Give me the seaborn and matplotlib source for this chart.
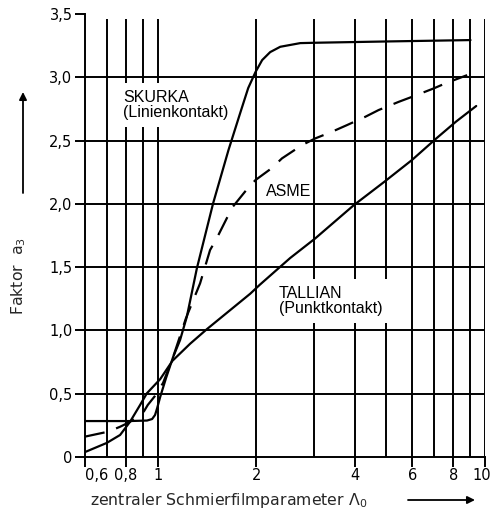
import numpy as np
import pandas as pd
import matplotlib
matplotlib.use("Agg")
import matplotlib.pyplot as plt
from matplotlib.ticker import NullLocator, FixedLocator, FixedFormatter
from matplotlib.transforms import ScaledTranslation
import seaborn as sns

# ---- data ----
skurka_x = [0.6, 0.818, 0.928, 0.962, 0.982, 0.997, 1.018, 1.061, 1.115, 1.171, 1.228,
            1.318, 1.478, 1.646, 1.787, 1.891, 1.99, 2.086, 2.207, 2.369, 2.727, 3.05, 5.0, 9.03]
skurka_y = [0.284, 0.284, 0.288, 0.300, 0.332, 0.387, 0.474, 0.624, 0.790, 0.924, 1.108,
            1.491, 2.006, 2.425, 2.717, 2.915, 3.041, 3.136, 3.199, 3.241, 3.270, 3.273, 3.283, 3.294]

asme_x = [0.6, 0.706, 0.768, 0.805, 0.841, 0.902, 0.933, 0.98, 1.039, 1.115, 1.221, 1.348,
          1.446, 1.517, 1.628, 1.697, 1.874, 1.99, 2.234, 2.397, 2.76, 3.03, 3.41, 3.786,
          4.31, 4.73, 5.45, 5.99, 6.97, 7.57, 8.82]
asme_y = [0.161, 0.200, 0.239, 0.265, 0.292, 0.348, 0.411, 0.48, 0.585, 0.790, 1.098, 1.372,
          1.635, 1.730, 1.888, 1.977, 2.115, 2.188, 2.283, 2.359, 2.464, 2.517, 2.570, 2.622,
          2.688, 2.741, 2.806, 2.846, 2.912, 2.952, 3.017]

tallian_x = [0.6, 0.699, 0.768, 0.824, 0.884, 0.927, 1.018, 1.11, 1.257, 1.414, 1.918, 2.05,
             2.54, 3.03, 3.98, 4.93, 5.98, 7.1, 8.15, 9.4]
tallian_y = [0.039, 0.111, 0.174, 0.279, 0.411, 0.503, 0.615, 0.76, 0.895, 1.01, 1.29, 1.36,
             1.572, 1.727, 1.991, 2.175, 2.346, 2.517, 2.649, 2.773]

x_grid = [0.6, 0.7, 0.8, 0.9, 1, 2, 3, 4, 5, 6, 7, 8, 9, 10]
y_grid = [0.5, 1.0, 1.5, 2.0, 2.5, 3.0]
x_ticks = [0.6, 0.8, 1, 2, 4, 6, 8, 10]
x_ticklabels = ["0,6", "0,8", "1", "2", "4", "6", "8", "10"]
y_ticks = [0, 0.5, 1.0, 1.5, 2.0, 2.5, 3.0, 3.5]
y_ticklabels = ["0", "0,5", "1,0", "1,5", "2,0", "2,5", "3,0", "3,5"]

df = pd.concat([
    pd.DataFrame({"x": skurka_x, "y": skurka_y, "kurve": "SKURKA"}),
    pd.DataFrame({"x": asme_x, "y": asme_y, "kurve": "ASME"}),
    pd.DataFrame({"x": tallian_x, "y": tallian_y, "kurve": "TALLIAN"}),
], ignore_index=True)

sns.set_style("ticks")
plt.rcParams["font.family"] = ["DejaVu Sans"]

W, H = 492, 517
fig = plt.figure(figsize=(W / 100, H / 100), dpi=100)
ax = fig.add_axes([85 / W, 60 / H, 400 / W, 443 / H])
ax.set_xscale("log")
ax.set_xlim(0.6, 10)
ax.set_ylim(0, 3.5)

LW = 1.6
GW = 1.4
# grid
ax.hlines(y_grid, 0.6, 10, color="black", lw=GW, zorder=1)
ax.vlines(x_grid[1:], 0, 3.46, color="black", lw=GW, zorder=1)

# curves
for name in ["SKURKA", "ASME", "TALLIAN"]:
    sub = df[df["kurve"] == name]
    sns.lineplot(data=sub, x="x", y="y", ax=ax, color="black", lw=LW,
                 estimator=None, sort=False, zorder=3)
    if name == "ASME":
        ax.lines[-1].set_dashes((9, 5.5))

# labels on white boxes
lab_font = dict(family=["Liberation Sans", "DejaVu Sans"], fontsize=11.5, color="black")
box = dict(facecolor="white", edgecolor="none", pad=5)
ax.text(0.784, 2.90, "SKURKA\n(Linienkontakt)", ha="left", va="top", linespacing=1.0,
        bbox=box, zorder=2, **lab_font)
ax.text(2.15, 2.10, "ASME", ha="left", va="center",
        bbox=dict(facecolor="white", edgecolor="none", pad=1), zorder=2, **lab_font)
ax.text(2.35, 1.35, "TALLIAN\n(Punktkontakt)", ha="left", va="top", linespacing=1.0,
        bbox=box, zorder=2, **lab_font)

# axes styling
for s in ["top", "right"]:
    ax.spines[s].set_visible(False)
for s in ["left", "bottom"]:
    ax.spines[s].set_linewidth(GW)
    ax.spines[s].set_color("black")
ax.xaxis.set_minor_locator(NullLocator())
ax.xaxis.set_major_locator(FixedLocator(x_ticks))
ax.xaxis.set_major_formatter(FixedFormatter(x_ticklabels))
ax.set_yticks(y_ticks)
ax.set_yticklabels(y_ticklabels)
ax.tick_params(axis="both", direction="out", length=7, width=GW, colors="black", labelsize=10.5)
ax.tick_params(axis="x", pad=1)
ax.tick_params(axis="y", pad=2)
xt = ax.get_xticklabels()
xt[0].set_horizontalalignment("left")
xt[-1].set_transform(xt[-1].get_transform() + ScaledTranslation(-3 / 100, 0, fig.dpi_scale_trans))
ax.set_xlabel("")
ax.set_ylabel("")

# axis titles with arrows
fig.text(90 / W, 1 - 500 / H, r"zentraler Schmierfilmparameter $\mathregular{\Lambda_0}$",
         ha="left", va="center", fontsize=11.3)
fig.text(19 / W, 1 - 276 / H, r"Faktor  $\mathregular{a_3}$", rotation=90,
         ha="center", va="center", fontsize=11.3)
arrow = dict(arrowstyle="-|>", color="black", lw=1.3, mutation_scale=11, shrinkA=0, shrinkB=0)
ax.annotate("", xy=(475 / W, 1 - 500 / H), xytext=(408 / W, 1 - 500 / H),
            xycoords="figure fraction", textcoords="figure fraction",
            arrowprops=arrow, annotation_clip=False)
ax.annotate("", xy=(23 / W, 1 - 92 / H), xytext=(23 / W, 1 - 193 / H),
            xycoords="figure fraction", textcoords="figure fraction",
            arrowprops=arrow, annotation_clip=False)

fig.savefig("out.png", dpi=100, facecolor="white")
